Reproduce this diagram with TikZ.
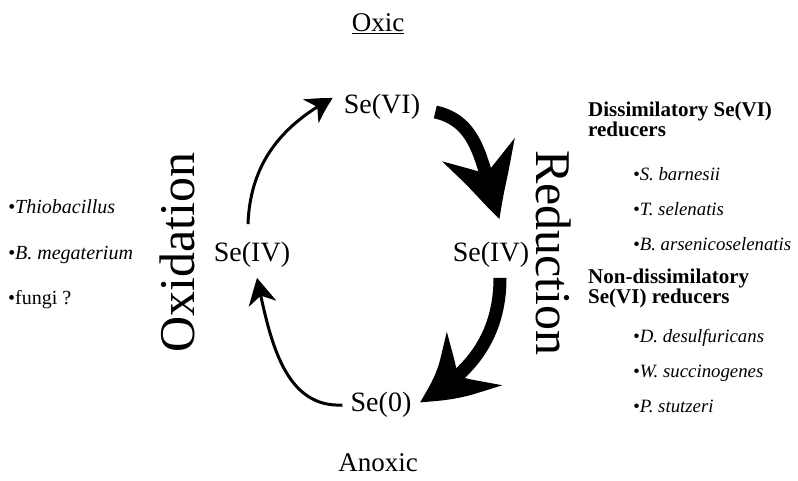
\documentclass[tikz,border=0pt]{standalone}
\usepackage{fontspec}
\setmainfont{Liberation Serif}
\usetikzlibrary{arrows.meta,bending}

\tikzset{
  species/.style={inner sep=0pt,font=\fontsize{28}{30}\selectfont},
  zone/.style={inner sep=0pt,font=\fontsize{27}{28}\selectfont},
  process/.style={inner sep=0pt,font=\fontsize{50}{52}\selectfont},
  organism/.style={inner sep=0pt,anchor=base west,font=\fontsize{20}{22}\selectfont\itshape},
  reducer/.style={organism,font=\fontsize{18.8}{22}\selectfont\itshape},
  group/.style={inner sep=0pt,anchor=north west,align=left,font=\fontsize{21}{19}\selectfont\bfseries},
  thinflow/.style={line width=3pt,-{Stealth[length=26pt,width=28pt,inset=8pt,bend]}},
  bigflow/.style={line width=13pt,-{Stealth[length=74pt,width=74pt,inset=26pt,bend]}}
}

\begin{document}
\begin{tikzpicture}[x=1pt,y=-1pt]
  \useasboundingbox (0,0) rectangle (798,481);
  % oxidation states
  \node[zone] (oxic) at (378,24) {\underline{Oxic}};
  \node[species] (six) at (382,107) {Se(VI)};
  \node[species] (fourL) at (252,255) {Se(IV)};
  \node[species] (fourR) at (491,255) {Se(IV)};
  \node[species] (zero) at (381,405) {Se(0)};
  \node[zone] (anoxic) at (378,463) {Anoxic};
  % processes
  \node[process,rotate=90] (oxid) at (177,253) {Oxidation};
  \node[process,rotate=-90] (reduc) at (554,253) {Reduction};
  % cycle
  \draw[thinflow] ([xshift=-4pt,yshift=18pt]fourL.north) to[out=88,in=208] ([xshift=-11pt,yshift=9pt]six.west);
  \draw[thinflow] ([xshift=-8pt]zero.west) to[out=183,in=-78] ([xshift=5pt,yshift=-10pt]fourL.south);
  \draw[bigflow] ([xshift=15pt,yshift=-5pt]six.east) to[out=-12,in=112] ([xshift=9pt,yshift=23pt]fourR.north);
  \draw[bigflow] ([xshift=9pt,yshift=-10pt]fourR.south) to[out=-90,in=28] ([xshift=8pt,yshift=3pt]zero.east);
  % oxidizers
  \node[organism] (thio) at (8,214) {\textbullet Thiobacillus};
  \node[organism] (bmeg) at (8,260) {\textbullet B. megaterium};
  \node[organism,font=\fontsize{20}{22}\selectfont] (fungi) at (8,304) {\textbullet fungi ?};
  % reducers
  \node[group] (diss) at (588,102) {Dissimilatory Se(VI)\\reducers};
  \node[reducer] (sbar) at (633,181) {\textbullet S. barnesii};
  \node[reducer] (tsel) at (633,216) {\textbullet T. selenatis};
  \node[reducer] (bars) at (633,251) {\textbullet B. arsenicoselenatis};
  \node[group] (nondiss) at (588,269) {Non-dissimilatory\\Se(VI) reducers};
  \node[reducer] (ddes) at (633,342) {\textbullet D. desulfuricans};
  \node[reducer] (wsuc) at (633,377) {\textbullet W. succinogenes};
  \node[reducer] (pstu) at (633,412) {\textbullet P. stutzeri};
\end{tikzpicture}
\end{document}
